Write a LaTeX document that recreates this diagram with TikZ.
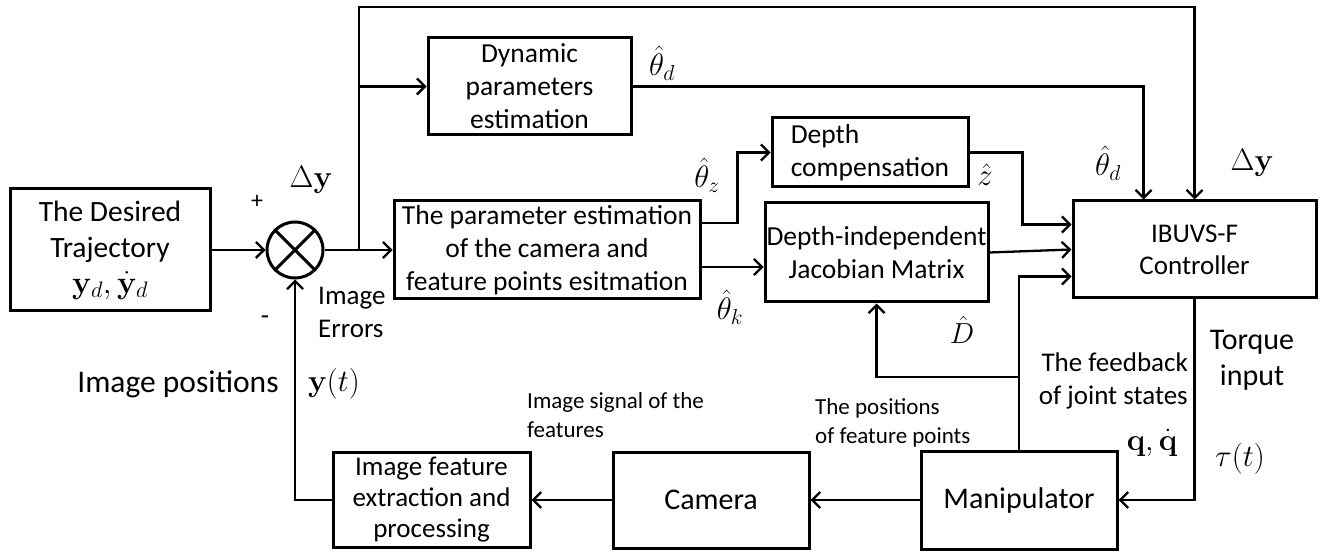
\RequirePackage{fix-cm}
\documentclass[tikz,border=0pt]{standalone}
\usepackage{amsmath}
\usepackage[no-math]{fontspec}
\setmainfont{Carlito}
\usetikzlibrary{calc,positioning,arrows.meta}
\tikzset{
  blk/.style={draw, line width=3pt, align=center, inner sep=0pt,
              font=\fontsize{27.5}{33}\selectfont},
  sumnode/.style={circle, draw, line width=3pt, minimum size=56pt, inner sep=0pt},
  wire/.style={line width=2.3pt},
  sig/.style={wire, -{Straight Barb[length=8pt,width=16pt]}},
  lbl/.style={inner sep=0pt, font=\fontsize{27}{33}\selectfont},
  smalllbl/.style={inner sep=0pt, align=left, font=\fontsize{23}{29}\selectfont},
  mathlbl/.style={inner sep=0pt, font=\fontsize{31}{32}\selectfont},
}
\begin{document}
\begin{tikzpicture}[x=1pt,y=-1pt]
  \useasboundingbox (0,0) rectangle (1325,553);
  % blocks
  \node[blk,minimum width=200pt,minimum height=122pt,font=\fontsize{29.5}{36}\selectfont] (desired) at (110,250)
    {The Desired\\Trajectory\\{\fontsize{32}{36}\selectfont$\mathbf{y}_d,\dot{\mathbf{y}}_d$}};
  \node[sumnode] (sum) at (295,250) {};
  \draw[line width=3pt] (sum.45) -- (sum.225) (sum.135) -- (sum.315);
  \node[blk,minimum width=203pt,minimum height=97pt] (dyn) at (529.5,86.5) {Dynamic\\parameters\\estimation};
  \node[blk,minimum width=306pt,minimum height=98pt] (param) at (547,250)
    {The parameter estimation\\of the camera and\\feature points esitmation};
  \node[blk,minimum width=196pt,minimum height=69pt,align=left] (depthc) at (870,152.5) {Depth\\compensation};
  \node[blk,minimum width=223pt,minimum height=99pt] (jac) at (876.5,252.5) {Depth-independent\\Jacobian Matrix};
  \node[blk,minimum width=243pt,minimum height=97pt,font=\fontsize{27}{32}\selectfont] (ctrl) at (1194.5,249.5) {IBUVS-F\\Controller};
  \node[blk,minimum width=196pt,minimum height=98pt,font=\fontsize{30}{36}\selectfont] (manip) at (1019,500) {Manipulator};
  \node[blk,minimum width=196pt,minimum height=96pt,font=\fontsize{30}{36}\selectfont] (cam) at (711,500) {Camera};
  \node[blk,minimum width=197pt,minimum height=95pt,font=\fontsize{27}{31}\selectfont] (feat) at (431.5,500)
    {Image feature\\extraction and\\processing};
  % forward path
  \coordinate (br) at (359,250);
  \coordinate (top) at (359,7);
  \coordinate (thdin) at ([xshift=-51pt]ctrl.north);
  \draw[sig] (desired.east) -- (sum.west);
  \draw[sig] (sum.east) -- (param.west);
  \draw[sig] (br) -- (top) -| (ctrl.north);
  \draw[sig] (br |- dyn.west) -- (dyn.west);
  \draw[sig] (dyn.east) -| (thdin);
  \draw[sig] ([yshift=27pt]param.east) -- ++(36,0) |- (depthc.west);
  \draw[sig] ([yshift=-17pt]param.east) -- ([yshift=-17pt]param.east -| jac.west);
  \draw[sig] (depthc.east) -- ++(53,0) |- ([yshift=25pt]ctrl.west);
  \draw[sig] (jac.east) -- (ctrl.west);
  % feedback
  \coordinate (fb) at (manip.north |- 0,377);
  \draw[sig] (manip.north) |- ([yshift=-27pt]ctrl.west);
  \draw[sig] (fb) -| (jac.south);
  \draw[sig] (ctrl.south) |- (manip.east);
  \draw[sig] (manip.west) -- (cam.east);
  \draw[sig] (cam.west) -- (feat.east);
  \draw[sig] (feat.west) -| (sum.south);
  % labels
  \node[lbl,font=\fontsize{24}{28}\selectfont] (plus) at (257,202) {+};
  \node[lbl] (minus) at (265,320) {-};
  \node[mathlbl] (dy1) at (311,180) {$\Delta\mathbf{y}$};
  \node[lbl,align=left,anchor=west] (err) at (318,312) {Image\\Errors};
  \node[lbl,font=\fontsize{31.5}{36}\selectfont] (imgpos) at (178,384) {Image positions};
  \node[mathlbl] (yt) at (334,384) {$\mathbf{y}(t)$};
  \node[mathlbl] (thd1) at (662,63) {$\hat{\theta}_d$};
  \node[mathlbl] (thz) at (707,175) {$\hat{\theta}_z$};
  \node[mathlbl] (thk) at (730,307) {$\hat{\theta}_k$};
  \node[mathlbl] (zh) at (985,175) {$\hat{z}$};
  \node[mathlbl] (thd2) at (1108,163) {$\hat{\theta}_d$};
  \node[mathlbl] (dy2) at (1252,163) {$\Delta\mathbf{y}$};
  \node[mathlbl,font=\fontsize{29}{32}\selectfont] (Dh) at (962,330) {$\hat{D}$};
  \node[smalllbl,anchor=west] (sigimg) at (527,415) {Image signal of the\\features};
  \node[smalllbl,anchor=west] (posfp) at (815,423) {The positions\\of feature points};
  \node[lbl,align=right,anchor=east] (jfb) at (1188,381) {The feedback\\of joint states};
  \node[mathlbl] (qq) at (1152,443) {$\mathbf{q},\dot{\mathbf{q}}$};
  \node[lbl,align=center,font=\fontsize{30}{36}\selectfont] (torq) at (1252,360) {Torque\\input};
  \node[mathlbl] (tau) at (1240,459) {$\tau(t)$};
\end{tikzpicture}
\end{document}
